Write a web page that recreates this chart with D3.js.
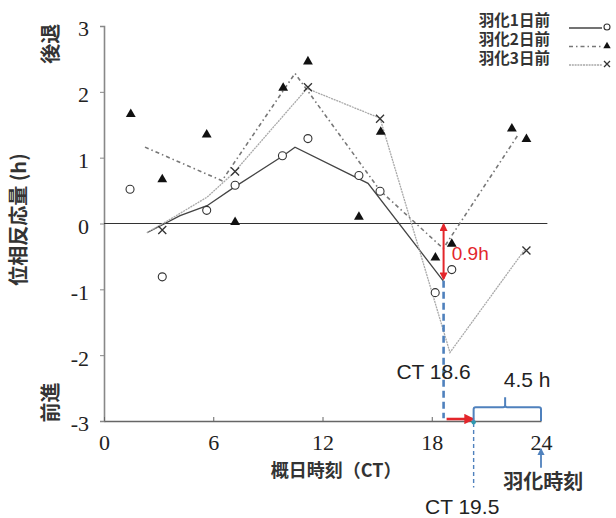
<!DOCTYPE html>
<html>
<head>
<meta charset="utf-8">
<script src="https://cdn.jsdelivr.net/npm/d3@7"></script>
<style>
  body { margin: 0; background: #fff; }
</style>
</head>
<body>
<div id="chart"></div>
<script>
// tick labels
const xTicks = [0, 6, 12, 18, 24];
const yTicks = [-3, -2, -1, 0, 1, 2, 3];

// series names
const seriesNames = ["羽化1日前", "羽化2日前", "羽化3日前"];

// 羽化1日前 (circles)
const day1X = [1.43, 3.2, 5.64, 7.2, 9.8, 11.2, 14.0, 15.16, 18.19, 19.1];
const day1Y = [0.52, -0.81, 0.2, 0.58, 1.03, 1.29, 0.73, 0.49, -1.05, -0.7];
const day1LineX = [2.36, 4.18, 5.66, 7.2, 9.84, 10.49, 14.5, 18.63];
const day1LineY = [-0.14, 0.12, 0.27, 0.56, 1.03, 1.16, 0.61, -0.87];

// 羽化2日前 (triangles)
const day2X = [1.47, 3.2, 5.64, 7.2, 9.84, 11.2, 14.0, 15.2, 18.2, 19.1, 22.4, 23.2];
const day2Y = [1.66, 0.67, 1.35, 0.02, 2.06, 2.46, 0.1, 1.39, -0.52, -0.31, 1.44, 1.28];
const day2LineX = [2.25, 6.48, 10.49, 15.16, 18.63, 22.75];
const day2LineY = [1.16, 0.65, 2.28, 0.5, -0.38, 1.35];

// 羽化3日前 (crosses)
const day3X = [3.2, 7.2, 11.2, 15.16, 23.2];
const day3Y = [-0.1, 0.79, 2.07, 1.59, -0.41];
const day3LineX = [2.36, 3.79, 5.66, 7.09, 9.29, 11.15, 15.16, 19.0, 23.1];
const day3LineY = [-0.14, 0.09, 0.40, 0.76, 1.46, 2.05, 1.6, -1.96, -0.4];

// annotation values (CT hours / phase h)
const shiftX = 18.65, shiftY = -0.87;
const ct195X = 20.3;
const eclosionX = 24;

const width = 616, height = 518;
const serif = "'Liberation Serif', 'Times New Roman', serif";
const sans = "'Liberation Sans', Arial, sans-serif";
const jp = "'Noto Sans CJK JP', 'Noto Sans', sans-serif";

let svg = d3.select('#chart')
    .append('svg')
    .attr('width', width)
    .attr('height', height);

let defs = svg.append('defs');
function arrowMarker(id, color) {
    defs.append('marker')
        .attr('id', id)
        .attr('viewBox', '0 0 10 10')
        .attr('refX', 8).attr('refY', 5)
        .attr('markerWidth', 4).attr('markerHeight', 4)
        .attr('orient', 'auto-start-reverse')
        .append('path')
        .attr('d', 'M0,0 L10,5 L0,10 z')
        .attr('fill', color);
}
arrowMarker('redArrow', '#e3262b');
arrowMarker('blueArrow', '#4f81bd');

// Scales
let x = d3.scaleLinear().domain([0, 24]).range([104, 541]);
let y = d3.scaleLinear().domain([-3, 3]).range([421, 26]);

// Axes
let yaxis = d3.axisLeft(y).tickValues(yTicks).tickSize(4).tickFormat(d => d < 0 ? '-' + Math.abs(d) : d);
let g_yaxis = svg.append('g').attr('transform', `translate(${x(0)},0)`).call(yaxis);
g_yaxis.attr('font-size', 22);
g_yaxis.select('.domain').attr('stroke', '#888').attr('stroke-width', 1.6);
g_yaxis.selectAll('.tick line').attr('stroke', '#888');
g_yaxis.selectAll('.tick text')
    .style('font-family', serif)
    .attr('fill', '#222')
    .attr('x', -15)
    .attr('dy', '0.45em');

let xaxis = d3.axisBottom(x).tickValues(xTicks).tickSize(-4).tickSizeOuter(0);
let g_xaxis = svg.append('g').attr('transform', `translate(0,${y(-3)})`).call(xaxis);
g_xaxis.attr('font-size', 22);
g_xaxis.select('.domain').attr('stroke', '#666').attr('stroke-width', 1.3);
g_xaxis.selectAll('.tick line').attr('stroke', '#666');
g_xaxis.selectAll('.tick text')
    .style('font-family', serif)
    .attr('fill', '#222')
    .attr('y', 13);

// zero line
svg.append('line')
    .attr('x1', x(0)).attr('x2', x(24.35))
    .attr('y1', y(0)).attr('y2', y(0))
    .attr('stroke', '#333').attr('stroke-width', 1.1);

// lines
let line = d3.line().x(d => x(d[0])).y(d => y(d[1]));
let lineStyles = [
    { stroke: '#444', width: 1.3, dash: null },
    { stroke: '#777', width: 1.6, dash: '4,3,1.5,3' },
    { stroke: '#a8a8a8', width: 1.3, dash: '2,0.8' }
];
let lineData = [
    d3.zip(day1LineX, day1LineY),
    d3.zip(day2LineX, day2LineY),
    d3.zip(day3LineX, day3LineY)
];
svg.selectAll('.series')
    .data(lineData)
    .join('path')
    .attr('class', 'series')
    .attr('d', line)
    .attr('fill', 'none')
    .attr('stroke', (d, i) => lineStyles[i].stroke)
    .attr('stroke-width', (d, i) => lineStyles[i].width)
    .attr('stroke-dasharray', (d, i) => lineStyles[i].dash);

// markers
function drawCircle(g, cx, cy, r) {
    g.append('circle').attr('cx', cx).attr('cy', cy).attr('r', r)
        .attr('fill', '#fff').attr('stroke', '#333').attr('stroke-width', 1.1);
}
function drawTriangle(g, cx, cy, s) {
    g.append('path')
        .attr('transform', `translate(${cx},${cy})`)
        .attr('d', d3.symbol().type(d3.symbolTriangle).size(s))
        .attr('fill', '#111');
}
function drawCross(g, cx, cy, h) {
    g.append('path')
        .attr('d', `M${cx - h},${cy - h}L${cx + h},${cy + h}M${cx - h},${cy + h}L${cx + h},${cy - h}`)
        .attr('stroke', '#333').attr('stroke-width', 1.3).attr('fill', 'none');
}

let gm = svg.append('g');
d3.zip(day1X, day1Y).forEach(d => drawCircle(gm, x(d[0]), y(d[1]), 4));
d3.zip(day2X, day2Y).forEach(d => drawTriangle(gm, x(d[0]), y(d[1]), 42));
d3.zip(day3X, day3Y).forEach(d => drawCross(gm, x(d[0]), y(d[1]), 4));

// legend
let legend = svg.append('g');
let legendRows = [27, 46, 65];
seriesNames.forEach((name, i) => {
    legend.append('text')
        .style('font-family', jp)
        .attr('x', 550).attr('y', legendRows[i] - 1)
        .attr('text-anchor', 'end')
        .attr('font-size', 15.5)
        .attr('font-weight', 'bold')
        .attr('fill', '#333')
        .text(name);
    legend.append('line')
        .attr('x1', 569).attr('x2', 602)
        .attr('y1', legendRows[i] + 1 - i * 0.5).attr('y2', legendRows[i] + 1 - i * 0.5)
        .attr('stroke', lineStyles[i].stroke)
        .attr('stroke-width', lineStyles[i].width)
        .attr('stroke-dasharray', lineStyles[i].dash);
});
drawCircle(legend, 607, legendRows[0], 3);
drawTriangle(legend, 607, legendRows[1], 24);
drawCross(legend, 607, legendRows[2] - 1, 3);

// axis titles
function jpText(tx, ty, rot, size, str) {
    svg.append('text')
        .style('font-family', jp)
        .attr('transform', `translate(${tx},${ty}) rotate(${rot})`)
        .attr('text-anchor', 'middle')
        .attr('font-size', size)
        .attr('font-weight', 'bold')
        .attr('fill', '#333')
        .text(str);
}
jpText(26, y(0) - 4, -90, 20, '位相反応量 (h)');
jpText(58, y(2.73), -90, 20, '後退');
jpText(58, y(-2.72), -90, 20, '前進');
jpText(x(12.75), 477, 0, 18, '概日時刻（CT）');

// annotations
let ann = svg.append('g');
// blue dashed drop from the minimum to the axis
ann.append('line')
    .attr('x1', x(shiftX)).attr('x2', x(shiftX))
    .attr('y1', y(shiftY)).attr('y2', y(-2.96))
    .attr('stroke', '#4f81bd').attr('stroke-width', 2.6)
    .attr('stroke-dasharray', '7,4');
// red double arrow: 0.9h
ann.append('line')
    .attr('x1', x(shiftX)).attr('x2', x(shiftX))
    .attr('y1', y(shiftY) - 2).attr('y2', y(0) + 1)
    .attr('stroke', '#e3262b').attr('stroke-width', 2)
    .attr('marker-start', 'url(#redArrow)')
    .attr('marker-end', 'url(#redArrow)');
function sansText(tx, ty, anchor, size, color, str) {
    ann.append('text')
        .style('font-family', sans)
        .attr('x', tx).attr('y', ty)
        .attr('text-anchor', anchor)
        .attr('font-size', size)
        .attr('fill', color)
        .text(str);
}
sansText(x(19.1), y(-0.56), 'start', 19, '#e3262b', '0.9h');
sansText(x(18.1), y(-2.36), 'middle', 21, '#222', 'CT 18.6');
// red horizontal arrow to CT 19.5
ann.append('line')
    .attr('x1', x(shiftX) + 3).attr('x2', x(ct195X) - 1)
    .attr('y1', y(-2.97)).attr('y2', y(-2.97))
    .attr('stroke', '#e3262b').attr('stroke-width', 2.6)
    .attr('marker-end', 'url(#redArrow)');
// blue dashed line down to CT 19.5 label
ann.append('line')
    .attr('x1', x(ct195X)).attr('x2', x(ct195X))
    .attr('y1', y(-3.03)).attr('y2', y(-4.01))
    .attr('stroke', '#4f81bd').attr('stroke-width', 1.4)
    .attr('stroke-dasharray', '4,3');
ann.append('circle')
    .attr('cx', x(ct195X)).attr('cy', y(-3.02)).attr('r', 2.2)
    .attr('fill', '#2e9bb0');
sansText(x(19.67), 514, 'middle', 21, '#222', 'CT 19.5');
// brace 4.5 h
let bx0 = x(ct195X), bx1 = x(eclosionX), bm = x(22.03);
let by0 = y(-3.0), by1 = y(-2.79), byt = y(-2.64);
ann.append('path')
    .attr('d', `M${bx0},${by0}L${bx0},${by1 + 2}Q${bx0},${by1} ${bx0 + 2},${by1}` +
        `L${bm - 2},${by1}Q${bm},${by1} ${bm},${by1 - 2}L${bm},${byt}` +
        `M${bm},${by1 - 2}Q${bm},${by1} ${bm + 2},${by1}L${bx1 - 2},${by1}` +
        `Q${bx1},${by1} ${bx1},${by1 + 2}L${bx1},${by0}`)
    .attr('fill', 'none')
    .attr('stroke', '#4f81bd').attr('stroke-width', 2);
sansText(x(23.24), y(-2.49), 'middle', 21, '#222', '4.5 h');
// arrow pointing at 24 (eclosion time)
ann.append('line')
    .attr('x1', x(eclosionX)).attr('x2', x(eclosionX))
    .attr('y1', y(-3.71)).attr('y2', y(-3.43))
    .attr('stroke', '#4f81bd').attr('stroke-width', 1.8)
    .attr('marker-end', 'url(#blueArrow)');
svg.append('text')
    .style('font-family', jp)
    .attr('x', x(24.12)).attr('y', 489)
    .attr('text-anchor', 'middle')
    .attr('font-size', 20)
    .attr('font-weight', 'bold')
    .attr('fill', '#333')
    .text('羽化時刻');
</script>
</body>
</html>
